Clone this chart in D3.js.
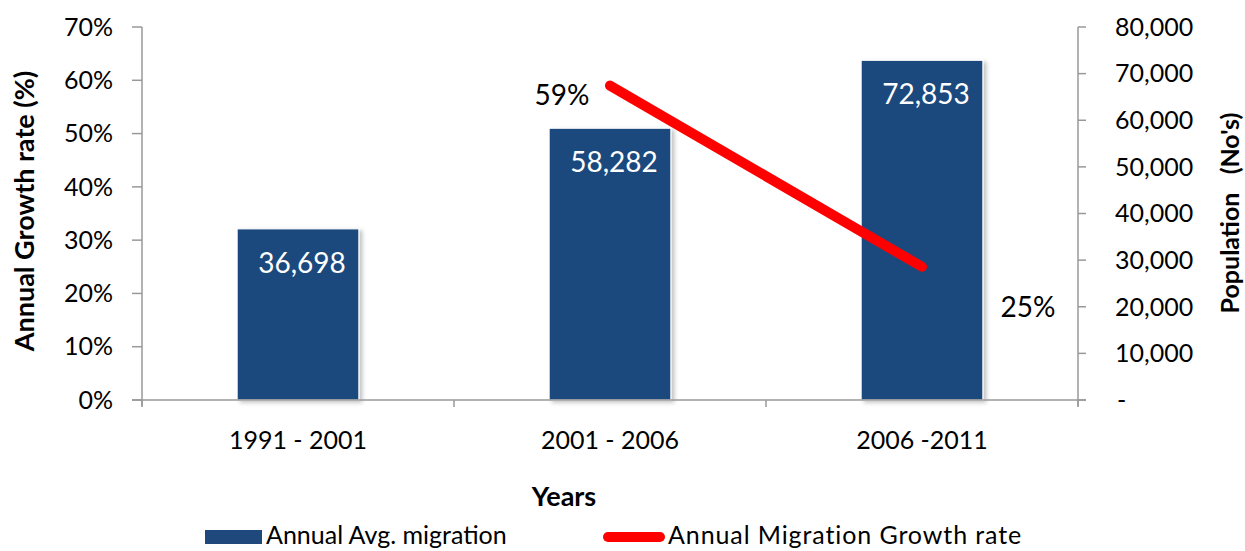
<!DOCTYPE html>
<html><head><meta charset="utf-8">
<script src="https://cdn.jsdelivr.net/npm/d3@7"></script>
<style>body{margin:0;background:#fff}svg{display:block}text{font-family:Lato,"Open Sans",sans-serif}</style>
</head><body><svg id="c" width="1245" height="551"></svg>
<script>
const categories = ["1991 - 2001", "2001 - 2006", "2006 -2011"];
const migration = [36698, 58282, 72853];
const growthRate = [null, 0.59, 0.25];
const leftTicks = [0, 0.1, 0.2, 0.3, 0.4, 0.5, 0.6, 0.7];
const rightTicks = [0, 10000, 20000, 30000, 40000, 50000, 60000, 70000, 80000];
const seriesNames = ["Annual Avg. migration", "Annual Migration Growth rate"];

const svg = d3.select("#c");
const L = 142, R = 1078, T = 27, B = 400;
const barColor = "#1F497D", lineColor = "#FF0000", axisColor = "#999";

const x = d3.scaleBand().domain(categories).range([L, R]).paddingInner(0.61).paddingOuter(0.305);
const yL = d3.scaleLinear().domain([0, 0.7]).range([B, T]);
const yR = d3.scaleLinear().domain([0, 80000]).range([B, T]);

const defs = svg.append("defs");
const f = defs.append("filter").attr("id","sh").attr("x","-10%").attr("y","-10%").attr("width","130%").attr("height","130%");
f.append("feDropShadow").attr("dx",3).attr("dy",2).attr("stdDeviation",2).attr("flood-color","#000").attr("flood-opacity",0.25);

// bars
svg.append("g").selectAll("rect").data(migration).join("rect")
  .attr("x",(d,i)=>x(categories[i])).attr("width",x.bandwidth())
  .attr("y",d=>yR(d)).attr("height",d=>B-yR(d))
  .attr("fill",barColor).attr("stroke","#fff").attr("stroke-width",1).attr("filter","url(#sh)");

// bar labels
svg.append("g").selectAll("text").data(migration).join("text")
  .attr("x",(d,i)=>x(categories[i])+x.bandwidth()/2+4).attr("y",d=>yR(d)+34)
  .attr("dy","0.35em").attr("text-anchor","middle").attr("fill","#fff")
  .attr("font-size",28).text(d=>d3.format(",")(d));

// axes
const ax = svg.append("g").attr("stroke",axisColor).attr("stroke-width",1.5).attr("fill","none");
ax.append("line").attr("x1",L).attr("x2",L).attr("y1",T).attr("y2",B+6);
ax.append("line").attr("x1",R).attr("x2",R).attr("y1",T).attr("y2",B+6);
ax.append("line").attr("x1",L-10).attr("x2",R+8).attr("y1",B).attr("y2",B);
leftTicks.forEach(t=>ax.append("line").attr("x1",L-10).attr("x2",L).attr("y1",yL(t)).attr("y2",yL(t)));
rightTicks.forEach(t=>ax.append("line").attr("x1",R).attr("x2",R+8).attr("y1",yR(t)).attr("y2",yR(t)));
const bounds = categories.map(c=>x(c)-x.step()*x.paddingInner()/2).concat([R]);
bounds.forEach(b=>ax.append("line").attr("x1",b).attr("x2",b).attr("y1",B).attr("y2",B+7));

svg.append("g").selectAll("text").data(leftTicks).join("text")
  .attr("x",113).attr("y",d=>yL(d)).attr("dy","0.35em").attr("text-anchor","end")
  .attr("font-size",25).attr("fill","#000").text(d=>d3.format(".0%")(d));
svg.append("g").selectAll("text").data(rightTicks).join("text")
  .attr("x",d=>d===0?1117:1115).attr("y",d=>yR(d)).attr("dy","0.35em").attr("text-anchor","start")
  .attr("font-size",25).attr("fill","#000").text(d=>d===0?"-":d3.format(",")(d));
svg.append("g").selectAll("text").data(categories).join("text")
  .attr("x",d=>x(d)+x.bandwidth()/2).attr("y",440).attr("dy","0.35em").attr("text-anchor","middle")
  .attr("font-size",25).attr("fill","#000").text(d=>d);

// titles
svg.append("text").attr("transform","translate(25,211) rotate(-90)").attr("text-anchor","middle")
  .attr("dy","0.35em").attr("font-size",27).attr("font-weight","bold").text("Annual Growth rate (%)");
svg.append("text").attr("transform","translate(1230,213) rotate(-90)").attr("text-anchor","middle")
  .attr("dy","0.35em").attr("font-size",25).attr("font-weight","bold").attr("xml:space","preserve").text("Population   (No's)");
svg.append("text").attr("x",564).attr("y",497).attr("dy","0.35em").attr("text-anchor","middle")
  .attr("font-size",27).attr("font-weight","bold").text("Years");

// line
const pts = growthRate.map((v,i)=>({v,c:categories[i]})).filter(d=>d.v!==null);
const line = d3.line().x(d=>x(d.c)+x.bandwidth()/2).y(d=>yL(d.v));
svg.append("path").datum(pts).attr("d",line).attr("fill","none").attr("stroke",lineColor)
  .attr("stroke-width",10).attr("stroke-linecap","round").attr("stroke-linejoin","round");
const lblOff = [[-48,10],[106,40]];
svg.append("g").selectAll("text").data(pts).join("text")
  .attr("x",(d,i)=>x(d.c)+x.bandwidth()/2+lblOff[i][0]).attr("y",(d,i)=>yL(d.v)+lblOff[i][1])
  .attr("dy","0.35em").attr("text-anchor","middle").attr("font-size",28).attr("fill","#000")
  .text(d=>d3.format(".0%")(d.v));

// legend
const lg = svg.append("g");
lg.append("rect").attr("x",205).attr("y",530).attr("width",57).attr("height",14).attr("fill",barColor);
lg.append("text").attr("x",266).attr("y",535).attr("dy","0.35em").attr("font-size",25).text(seriesNames[0]);
lg.append("line").attr("x1",608).attr("x2",660).attr("y1",537).attr("y2",537).attr("stroke",lineColor)
  .attr("stroke-width",10).attr("stroke-linecap","round");
lg.append("text").attr("x",668).attr("y",535).attr("dy","0.35em").attr("font-size",25).attr("letter-spacing",0.9).text(seriesNames[1]);
</script></body></html>
